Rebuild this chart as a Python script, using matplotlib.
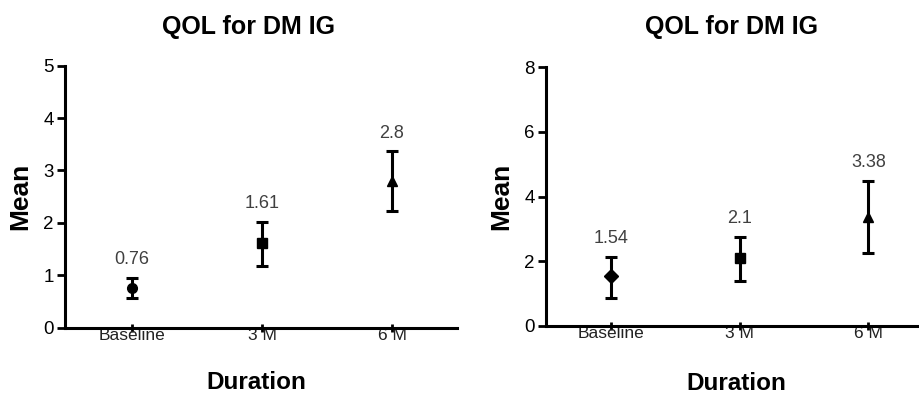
import matplotlib
matplotlib.use('Agg')
import matplotlib.pyplot as plt
import numpy as np

plt.rcParams['font.family'] = ['Liberation Sans', 'DejaVu Sans']

# data
durations = ['Baseline', '3 M', '6 M']
markers = [['o', 's', '^'], ['D', 's', '^']]

mean_left = [0.76, 1.61, 2.8]
upper_left = [0.95, 2.02, 3.37]
lower_left = [0.57, 1.18, 2.23]

mean_right = [1.54, 2.1, 3.38]
upper_right = [2.14, 2.76, 4.49]
lower_right = [0.87, 1.39, 2.26]

titles = ['QOL for DM IG', 'QOL for DM IG']

fig = plt.figure(figsize=(9.2, 3.93), dpi=100)
ax1 = fig.add_axes([65/920, 1-327.7/393, 392/920, 262/393])
ax2 = fig.add_axes([546/920, 1-326/393, 374/920, 258.7/393])

# ax, means, upper, lower, ymax, step, xlim, title x/y, duration x/y, mean x, markers
panels = [
  (ax1, mean_left, upper_left, lower_left, 5, 1, (-0.515, 2.5), (0.467, 1.148), (0.487, -0.211), -0.084, markers[0]),
  (ax2, mean_right, upper_right, lower_right, 8, 2, (-0.504, 2.4), (0.495, 1.156), (0.51, -0.221), -0.088, markers[1]),
]

for ax, m, up, lo, ymax, step, xl, tpos, dpos, mx, mk in panels:
  x = np.arange(len(durations))
  for i in range(len(x)):
    ax.errorbar(x[i], m[i], yerr=[[m[i]-lo[i]], [up[i]-m[i]]], fmt=mk[i], color='black',
                ms=7, elinewidth=2.2, capsize=4.5, capthick=2.2)
    ax.annotate(f'{m[i]:g}', (x[i], up[i]), xytext=(0, 13),
                textcoords='offset points', ha='center', va='center',
                fontsize=13, color='#404040')
  ax.set_xlim(*xl)
  ax.set_ylim(0, ymax)
  ax.set_yticks(np.arange(0, ymax+0.1, step))
  ax.set_xticks(x)
  ax.set_xticklabels(durations, fontsize=12.5, color='#222222')
  ax.tick_params(axis='y', labelsize=13.5, width=2, length=6, pad=2)
  ax.tick_params(axis='x', width=2, length=6, direction='inout', pad=-3)
  for s in ['top', 'right']:
    ax.spines[s].set_visible(False)
  for s in ['left', 'bottom']:
    ax.spines[s].set_linewidth(2.2)
  ax.set_ylabel('Mean', fontsize=19, fontweight='bold')
  ax.yaxis.set_label_coords(mx, 0.5)
  ax.text(dpos[0], dpos[1], 'Duration', transform=ax.transAxes, ha='center', va='center',
          fontsize=17.5, fontweight='bold')
  ax.text(tpos[0], tpos[1], titles[0], transform=ax.transAxes, ha='center', va='center',
          fontsize=18, fontweight='bold')

plt.savefig('out.png', dpi=100)
